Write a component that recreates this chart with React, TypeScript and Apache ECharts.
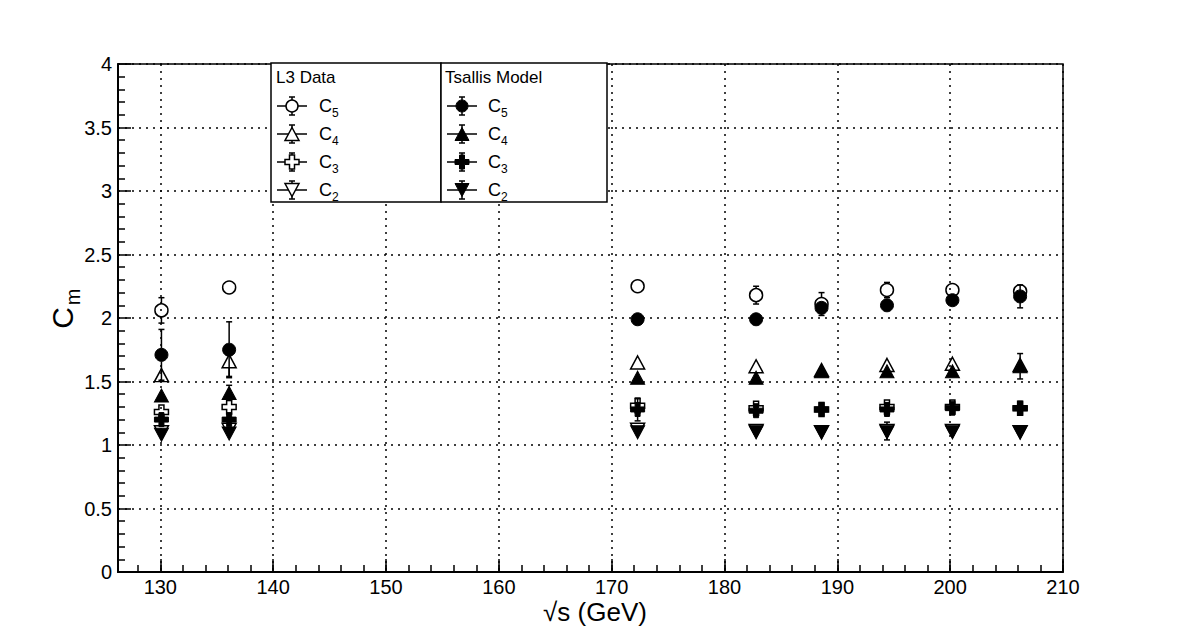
import React, { useEffect, useRef } from "react";
import * as echarts from "echarts";

// ---- data ----
const energies = [130.1, 136.1, 172.3, 182.8, 188.6, 194.4, 200.2, 206.2];

const l3C5 = [2.06, 2.24, 2.25, 2.18, 2.11, 2.22, 2.22, 2.21];
const l3C5Err = [0.1, 0.02, 0.02, 0.07, 0.09, 0.06, 0.03, 0.05];
const l3C4 = [1.55, 1.66, 1.65, 1.62, 1.59, 1.63, 1.64, 1.63];
const l3C4Err = [0.04, 0.12, 0.03, 0.03, 0.05, 0.03, 0.03, 0.05];
const l3C3 = [1.26, 1.3, 1.31, 1.29, 1.28, 1.3, 1.3, 1.29];
const l3C3Err = [0.05, 0.04, 0.03, 0.02, 0.02, 0.02, 0.02, 0.02];
const l3C2 = [1.1, 1.12, 1.12, 1.11, 1.1, 1.11, 1.11, 1.1];
const l3C2Err = [0.04, 0.03, 0.02, 0.02, 0.02, 0.07, 0.03, 0.02];

const tsC5 = [1.71, 1.75, 1.99, 1.99, 2.08, 2.1, 2.14, 2.17];
const tsC5Err = [0.2, 0.22, 0.02, 0.02, 0.04, 0.03, 0.03, 0.09];
const tsC4 = [1.39, 1.41, 1.53, 1.53, 1.58, 1.58, 1.58, 1.62];
const tsC4Err = [0.05, 0.06, 0.05, 0.02, 0.03, 0.03, 0.03, 0.1];
const tsC3 = [1.2, 1.2, 1.28, 1.27, 1.28, 1.28, 1.29, 1.29];
const tsC3Err = [0.05, 0.05, 0.09, 0.02, 0.02, 0.02, 0.02, 0.02];
const tsC2 = [1.08, 1.09, 1.1, 1.1, 1.1, 1.1, 1.1, 1.1];
const tsC2Err = [0.03, 0.03, 0.02, 0.02, 0.02, 0.03, 0.02, 0.02];

const xMin = 126.25;
const xMax = 210;
const yMin = 0;
const yMax = 4;

const legendGroups = ["L3 Data", "Tsallis Model"];
const legendRows = ["5", "4", "3", "2"];

const FONT = "Liberation Sans, Arial, Helvetica, sans-serif";
const CROSS = "path://M4.5,0 L9.5,0 L9.5,4.5 L14,4.5 L14,9.5 L9.5,9.5 L9.5,14 L4.5,14 L4.5,9.5 L0,9.5 L0,4.5 L4.5,4.5 Z";

type Kind = "circle" | "up" | "cross" | "down";

const seriesDefs: { name: string; kind: Kind; filled: boolean; vals: number[]; errs: number[] }[] = [
  { name: "L3 C5", kind: "circle", filled: false, vals: l3C5, errs: l3C5Err },
  { name: "L3 C4", kind: "up", filled: false, vals: l3C4, errs: l3C4Err },
  { name: "L3 C3", kind: "cross", filled: false, vals: l3C3, errs: l3C3Err },
  { name: "L3 C2", kind: "down", filled: false, vals: l3C2, errs: l3C2Err },
  { name: "Tsallis C5", kind: "circle", filled: true, vals: tsC5, errs: tsC5Err },
  { name: "Tsallis C4", kind: "up", filled: true, vals: tsC4, errs: tsC4Err },
  { name: "Tsallis C3", kind: "cross", filled: true, vals: tsC3, errs: tsC3Err },
  { name: "Tsallis C2", kind: "down", filled: true, vals: tsC2, errs: tsC2Err },
];

function symbolFor(kind: Kind) {
  if (kind === "circle") return { symbol: "circle", symbolSize: 13, symbolRotate: 0 };
  if (kind === "up") return { symbol: "triangle", symbolSize: [14, 13], symbolRotate: 0 };
  if (kind === "down") return { symbol: "triangle", symbolSize: [14, 13], symbolRotate: 180 };
  return { symbol: CROSS, symbolSize: 14, symbolRotate: 0 };
}

function legendMarker(kind: Kind, filled: boolean, cx: number, cy: number) {
  const style = filled
    ? { fill: "#000", stroke: "#000", lineWidth: 1 }
    : { fill: "#fff", stroke: "#000", lineWidth: 1.5 };
  if (kind === "circle") return { type: "circle", shape: { cx, cy, r: 6 }, style, z: 102 };
  if (kind === "up")
    return { type: "polygon", shape: { points: [[cx, cy - 6.5], [cx + 7, cy + 6.5], [cx - 7, cy + 6.5]] }, style, z: 102 };
  if (kind === "down")
    return { type: "polygon", shape: { points: [[cx - 7, cy - 6.5], [cx + 7, cy - 6.5], [cx, cy + 6.5]] }, style, z: 102 };
  const a = 2.5, h = 7;
  return {
    type: "polygon",
    shape: {
      points: [
        [cx - a, cy - h], [cx + a, cy - h], [cx + a, cy - a], [cx + h, cy - a], [cx + h, cy + a], [cx + a, cy + a],
        [cx + a, cy + h], [cx - a, cy + h], [cx - a, cy + a], [cx - h, cy + a], [cx - h, cy - a], [cx - a, cy - a],
      ],
    },
    style,
    z: 102,
  };
}

function buildLegend() {
  const els: any[] = [];
  const boxes = [
    { x: 271, w: 170, mx: 292, tx: 319, title: 276 },
    { x: 441, w: 166, mx: 462, tx: 488, title: 445 },
  ];
  const kinds: Kind[] = ["circle", "up", "cross", "down"];
  const rowY = [106, 134, 162, 190];
  boxes.forEach((b, bi) => {
    els.push({
      type: "rect",
      shape: { x: b.x, y: 63, width: b.w, height: 139 },
      style: { fill: "#fff", stroke: "#000", lineWidth: 1.5 },
      z: 100,
    });
    els.push({
      type: "text",
      x: b.title,
      y: 77,
      style: { text: legendGroups[bi], font: `17px ${FONT}`, fill: "#000", textAlign: "left", textVerticalAlign: "middle" },
      z: 103,
    });
    kinds.forEach((k, ri) => {
      const cy = rowY[ri];
      const cx = b.mx;
      const ls = { stroke: "#000", lineWidth: 1.5 };
      els.push({ type: "line", shape: { x1: cx - 15, y1: cy, x2: cx + 15, y2: cy }, style: ls, z: 101 });
      els.push({ type: "line", shape: { x1: cx, y1: cy - 9, x2: cx, y2: cy + 9 }, style: ls, z: 101 });
      els.push({ type: "line", shape: { x1: cx - 3, y1: cy - 9, x2: cx + 3, y2: cy - 9 }, style: ls, z: 101 });
      els.push({ type: "line", shape: { x1: cx - 3, y1: cy + 9, x2: cx + 3, y2: cy + 9 }, style: ls, z: 101 });
      els.push(legendMarker(k, bi === 1, cx, cy));
      els.push({
        type: "text",
        x: b.tx,
        y: cy,
        style: { text: "C", font: `18px ${FONT}`, fill: "#000", textAlign: "left", textVerticalAlign: "middle" },
        z: 103,
      });
      els.push({
        type: "text",
        x: b.tx + 13,
        y: cy + 7,
        style: { text: legendRows[ri], font: `12px ${FONT}`, fill: "#000", textAlign: "left", textVerticalAlign: "middle" },
        z: 103,
      });
    });
  });
  return els;
}

export default function App() {
  const ref = useRef<HTMLDivElement>(null);
  useEffect(() => {
    document.body.style.margin = "0";
    if (!ref.current) return;
    const chart = echarts.init(ref.current, null, { renderer: "svg" });

    const errorSeries = seriesDefs.map((s) => ({
      type: "custom",
      name: s.name + " err",
      xAxisIndex: 0,
      yAxisIndex: 0,
      z: 3,
      data: energies.map((x, i) => [x, s.vals[i], s.errs[i]]),
      encode: { x: 0, y: 1 },
      renderItem: (params: any, api: any) => {
        const x = api.value(0);
        const y = api.value(1);
        const e = api.value(2);
        const c = api.coord([x, y]);
        const t = api.coord([x, y + e]);
        const b = api.coord([x, y - e]);
        const half = 6.5;
        const ls = { stroke: "#000", lineWidth: 1.5 };
        const children: any[] = [];
        if (c[1] - t[1] > half) {
          children.push({ type: "line", shape: { x1: c[0], y1: t[1], x2: c[0], y2: c[1] - half }, style: ls });
          children.push({ type: "line", shape: { x1: c[0] - 3, y1: t[1], x2: c[0] + 3, y2: t[1] }, style: ls });
        }
        if (b[1] - c[1] > half) {
          children.push({ type: "line", shape: { x1: c[0], y1: c[1] + half, x2: c[0], y2: b[1] }, style: ls });
          children.push({ type: "line", shape: { x1: c[0] - 3, y1: b[1], x2: c[0] + 3, y2: b[1] }, style: ls });
        }
        return { type: "group", children };
      },
    }));

    const markerSeries = seriesDefs.map((s, si) => {
      const sym = symbolFor(s.kind);
      return {
        type: "scatter",
        name: s.name,
        xAxisIndex: 0,
        yAxisIndex: 0,
        z: 4 + si,
        symbol: sym.symbol,
        symbolSize: sym.symbolSize,
        symbolRotate: sym.symbolRotate,
        itemStyle: s.filled
          ? { color: "#000", borderColor: "#000", borderWidth: 1, opacity: 1 }
          : { color: "rgba(0,0,0,0)", borderColor: "#000", borderWidth: 1.5, opacity: 1 },
        data: energies.map((x, i) => [x, s.vals[i]]),
      };
    });

    const option: any = {
      animation: false,
      backgroundColor: "#fff",
      grid: {
        left: 118,
        top: 64,
        width: 945,
        height: 508,
        show: true,
        borderColor: "#000",
        borderWidth: 1.5,
        backgroundColor: "transparent",
        containLabel: false,
      },
      xAxis: [
        {
          type: "value",
          min: xMin,
          max: xMax,
          splitNumber: 8,
          minInterval: 10,
          maxInterval: 10,
          position: "bottom",
          axisLine: { show: true, onZero: false, lineStyle: { color: "#000", width: 2 } },
          axisTick: { show: true, inside: true, length: 13, lineStyle: { color: "#000", width: 1.5 } },
          axisLabel: {
            show: true,
            margin: 5,
            color: "#000",
            fontSize: 20,
            fontFamily: FONT,
            formatter: (v: number) => (Math.abs(v % 10) < 1e-6 ? String(v) : ""),
            showMinLabel: true,
            showMaxLabel: true,
          },
          splitLine: { show: true, lineStyle: { color: "#000", width: 1.5, type: [2, 5] } },
        },
        {
          type: "value",
          min: xMin,
          max: xMax,
          splitNumber: 42,
          minInterval: 2,
          maxInterval: 2,
          position: "bottom",
          axisLine: { show: false, onZero: false },
          axisTick: { show: true, inside: true, length: 7, lineStyle: { color: "#000", width: 1.5 } },
          axisLabel: { show: false },
          splitLine: { show: false },
        },
      ],
      yAxis: {
        type: "value",
        min: yMin,
        max: yMax,
        interval: 0.5,
        axisLine: { show: true, onZero: false, lineStyle: { color: "#000", width: 2 } },
        axisTick: { show: true, inside: true, length: 13, lineStyle: { color: "#000", width: 1.5 } },
        minorTick: { show: true, splitNumber: 5, length: 7, lineStyle: { color: "#000", width: 1.5 } },
        axisLabel: { show: true, margin: 6, color: "#000", fontSize: 20, fontFamily: FONT },
        splitLine: { show: true, lineStyle: { color: "#000", width: 1.5, type: [2, 5] } },
      },
      graphic: [
        ...buildLegend(),
        {
          type: "text",
          x: 595,
          y: 612,
          style: { text: "√s (GeV)", font: `26px ${FONT}`, fill: "#000", textAlign: "center", textVerticalAlign: "middle" },
          z: 103,
        },
        {
          type: "text",
          x: 62,
          y: 318,
          rotation: Math.PI / 2,
          style: { text: "C", font: `30px ${FONT}`, fill: "#000", textAlign: "center", textVerticalAlign: "middle" },
          z: 103,
        },
        {
          type: "text",
          x: 73,
          y: 297,
          rotation: Math.PI / 2,
          style: { text: "m", font: `20px ${FONT}`, fill: "#000", textAlign: "center", textVerticalAlign: "middle" },
          z: 103,
        },
      ],
      series: [...errorSeries, ...markerSeries],
    };
    chart.setOption(option);
    return () => chart.dispose();
  }, []);
  return <div ref={ref} style={{ width: 1182, height: 636 }} />;
}
